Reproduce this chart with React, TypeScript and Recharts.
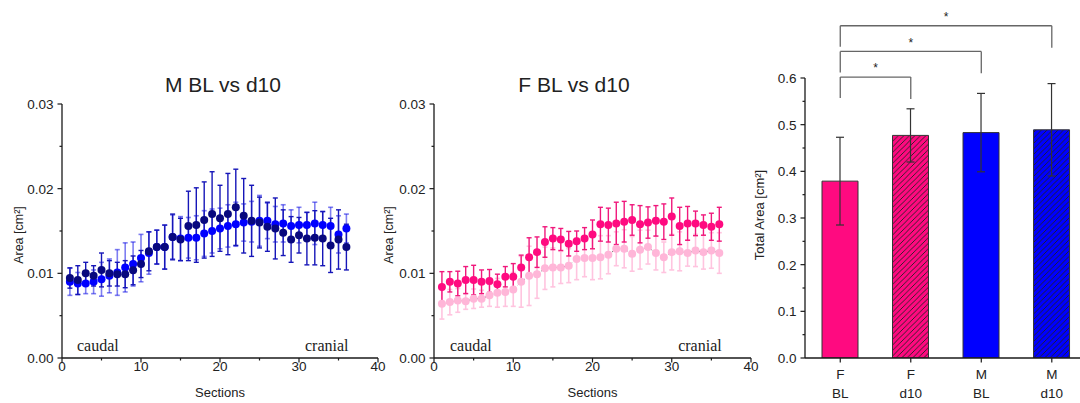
import React from "react";
import {
  ScatterChart,
  Scatter,
  BarChart,
  Bar,
  Cell,
  XAxis,
  YAxis,
  ErrorBar,
  ReferenceLine,
  ReferenceDot,
} from "recharts";

// sections along the spine (caudal -> cranial)
const sections = [
  1, 2, 3, 4, 5, 6, 7, 8, 9, 10, 11, 12, 13, 14, 15, 16, 17, 18,
  19, 20, 21, 22, 23, 24, 25, 26, 27, 28, 29, 30, 31, 32, 33, 34, 35, 36,
];

// males, area per section [cm²]
const mBL = [
  0.009, 0.0088, 0.0088, 0.009, 0.0093, 0.0097, 0.0101, 0.0107, 0.0111, 0.0118, 0.0124, 0.0131,
  0.0131, 0.0143, 0.0141, 0.0142, 0.0142, 0.0147, 0.015, 0.0153, 0.0156, 0.0158, 0.016, 0.0161,
  0.0162, 0.0162, 0.0158, 0.0159, 0.0156, 0.0157, 0.0157, 0.0159, 0.0157, 0.0156, 0.0146, 0.0153,
];
const mBLErr = [
  0.0016, 0.0013, 0.0012, 0.0014, 0.002, 0.002, 0.0027, 0.0029, 0.0026, 0.0028, 0.0025, 0.002,
  0.0026, 0.0026, 0.0026, 0.0024, 0.0026, 0.0027, 0.0026, 0.0024, 0.0025, 0.0026, 0.0022, 0.0024,
  0.003, 0.0021, 0.0021, 0.0022, 0.0019, 0.0021, 0.0015, 0.0025, 0.0016, 0.0022, 0.0022, 0.0017,
];
const mD10 = [
  0.00945, 0.0092, 0.01, 0.0097, 0.0104, 0.01, 0.0099, 0.0099, 0.01035, 0.0111, 0.0126, 0.0131,
  0.0131, 0.0143, 0.014, 0.0156, 0.0157, 0.0163, 0.017, 0.0165, 0.017, 0.0178, 0.0168, 0.0162,
  0.016, 0.0155, 0.0153, 0.0148, 0.014, 0.0145, 0.0141, 0.0142, 0.0141, 0.0133, 0.014, 0.0131,
];
const mD10Err = [
  0.0012, 0.0017, 0.0013, 0.0012, 0.002, 0.0015, 0.0014, 0.0016, 0.0017, 0.0016, 0.0023, 0.002,
  0.0026, 0.0027, 0.0025, 0.0041, 0.0044, 0.0045, 0.005, 0.0039, 0.0048, 0.0045, 0.0044, 0.0042,
  0.003, 0.0029, 0.0036, 0.0027, 0.0027, 0.0021, 0.0031, 0.0032, 0.0032, 0.0032, 0.0035, 0.0027,
];

// females, area per section [cm²]
const fBL = [
  0.0064, 0.0066, 0.0068, 0.0067, 0.007, 0.007, 0.0074, 0.0077, 0.0078, 0.0081, 0.009, 0.0097,
  0.0099, 0.0106, 0.0107, 0.0107, 0.0109, 0.0117, 0.0118, 0.0118, 0.0119, 0.0122, 0.0129, 0.0129,
  0.0123, 0.0128, 0.0131, 0.0124, 0.0119, 0.0125, 0.0126, 0.0124, 0.0127, 0.0125, 0.0127, 0.0124,
];
const fBLErr = [
  0.0018, 0.0015, 0.0014, 0.00095, 0.00115, 0.001, 0.0013, 0.0017, 0.0017, 0.002, 0.003, 0.0035,
  0.00285, 0.0025, 0.0023, 0.0019, 0.002, 0.00245, 0.0022, 0.00255, 0.00255, 0.00225, 0.002, 0.00225,
  0.00205, 0.0023, 0.002, 0.002, 0.0018, 0.0021, 0.0023, 0.00155, 0.0019, 0.002, 0.0021, 0.0024,
];
const fD10 = [
  0.0084, 0.009, 0.0088, 0.0092, 0.0092, 0.009, 0.0091, 0.0087, 0.0096, 0.0096, 0.0107, 0.0119,
  0.0125, 0.0137, 0.0141, 0.014, 0.0135, 0.0138, 0.0141, 0.0146, 0.0158, 0.0157, 0.0159, 0.0161,
  0.0163, 0.0158, 0.016, 0.0162, 0.0161, 0.0167, 0.0156, 0.0159, 0.0159, 0.0157, 0.0155, 0.0158,
];
const fD10Err = [
  0.0018, 0.0012, 0.00145, 0.0016, 0.00175, 0.0014, 0.00135, 0.0012, 0.0012, 0.00155, 0.00145, 0.0023,
  0.0018, 0.0018, 0.0013, 0.0013, 0.00145, 0.0012, 0.0013, 0.0017, 0.002, 0.002, 0.0025, 0.0024,
  0.0018, 0.0022, 0.00185, 0.0018, 0.0021, 0.0022, 0.0022, 0.002, 0.00145, 0.0012, 0.0016, 0.002,
];

// total area per group
const groupSex = ["F", "F", "M", "M"];
const groupDay = ["BL", "d10", "BL", "d10"];
const totalArea = [0.379, 0.477, 0.483, 0.489];
const totalAreaErr = [0.094, 0.057, 0.084, 0.099];

// significant comparisons (group index, 1-based)
const comparisons = [
  { from: 1, to: 2, label: "*" },
  { from: 1, to: 3, label: "*" },
  { from: 1, to: 4, label: "*" },
];

const AXIS = "#1a1a1a";
const FONT = "'Liberation Sans', Arial, sans-serif";
const TS = 4;
const TM = 4;
const TICK_FONT = 13.5;

const toPoints = (vals: number[], errs: number[]) =>
  sections.map((s, i) => ({ x: s, y: vals[i], e: errs[i] }));

const isMajor = (v: number, step: number) => Math.abs(v / step - Math.round(v / step)) < 1e-6;

const yTick = (step: number, digits: number) => (p: any) => {
  const v = p.payload.value;
  const major = isMajor(v, step);
  const ax = p.x + TS + TM;
  return (
    <g>
      <line x1={ax} x2={ax - (major ? 4.5 : 2.5)} y1={p.y} y2={p.y} stroke={AXIS} strokeWidth={1.2} />
      {major && (
        <text x={ax - 8.5} y={p.y} dy="0.36em" textAnchor="end" fontSize={TICK_FONT} fontFamily={FONT} fill="#222">
          {v.toFixed(digits)}
        </text>
      )}
    </g>
  );
};

const xTick = (step: number) => (p: any) => {
  const v = p.payload.value;
  const major = isMajor(v, step);
  const ay = p.y - TS - TM;
  return (
    <g>
      <line x1={p.x} x2={p.x} y1={ay} y2={ay + (major ? 4.5 : 2.5)} stroke={AXIS} strokeWidth={1.2} />
      {major && (
        <text x={p.x} y={ay + 12.5} textAnchor="middle" fontSize={TICK_FONT} fontFamily={FONT} fill="#222">
          {v}
        </text>
      )}
    </g>
  );
};

const groupTick = (p: any) => {
  const i = Math.round(p.payload.value) - 1;
  const ay = p.y - TS - TM;
  return (
    <g>
      <line x1={p.x} x2={p.x} y1={ay} y2={ay + 4.5} stroke={AXIS} strokeWidth={1.2} />
      <text x={p.x} y={ay + 20.5} textAnchor="middle" fontSize={TICK_FONT} fontFamily={FONT} fill="#222">
        {groupSex[i]}
      </text>
      <text x={p.x} y={ay + 40} textAnchor="middle" fontSize={TICK_FONT} fontFamily={FONT} fill="#222">
        {groupDay[i]}
      </text>
    </g>
  );
};

const dot = (fill: string) => (p: any) => <circle cx={p.cx} cy={p.cy} r={4} fill={fill} />;

const areaTicks = [0, 0.005, 0.01, 0.015, 0.02, 0.025, 0.03];
const sectionTicks = [0, 5, 10, 15, 20, 25, 30, 35, 40];
const totalTicks = [0, 0.05, 0.1, 0.15, 0.2, 0.25, 0.3, 0.35, 0.4, 0.45, 0.5, 0.55, 0.6];

type PanelProps = {
  left: number;
  right: number;
  bl: { x: number; y: number; e: number }[];
  d10: { x: number; y: number; e: number }[];
  blColor: string;
  blErr: string;
  d10Color: string;
  d10Err: string;
  connectBL?: boolean;
};

function SectionPanel({ left, right, bl, d10, blColor, blErr, d10Color, d10Err, connectBL }: PanelProps) {
  return (
    <div style={{ position: "absolute", left: 0, top: 0 }}>
      <ScatterChart width={1080} height={403} margin={{ top: 104, right, bottom: 0, left: left - 50 }}>
        <XAxis
          dataKey="x"
          type="number"
          domain={[0, 40]}
          ticks={sectionTicks}
          interval={0}
          height={45}
          tickSize={TS}
          tickMargin={TM}
          tickLine={false}
          tick={xTick(10)}
          axisLine={{ stroke: AXIS, strokeWidth: 1.3 }}
        />
        <YAxis
          dataKey="y"
          type="number"
          domain={[0, 0.03]}
          ticks={areaTicks}
          interval={0}
          width={50}
          tickSize={TS}
          tickMargin={TM}
          tickLine={false}
          tick={yTick(0.01, 2)}
          axisLine={{ stroke: AXIS, strokeWidth: 1.3 }}
        />
        <Scatter
          data={bl}
          shape={dot(blColor)}
          isAnimationActive={false}
          line={connectBL ? { stroke: "#555", strokeWidth: 1, strokeDasharray: "1 3" } : false}
        >
          <ErrorBar dataKey="e" direction="y" width={2.5} stroke={blErr} strokeWidth={1.6} isAnimationActive={false} />
        </Scatter>
        <Scatter data={d10} shape={dot(d10Color)} isAnimationActive={false}>
          <ErrorBar dataKey="e" direction="y" width={2.5} stroke={d10Err} strokeWidth={1.4} isAnimationActive={false} />
        </Scatter>
      </ScatterChart>
    </div>
  );
}

const barData = totalArea.map((v, i) => ({ x: i + 1, v, e: totalAreaErr[i] }));
const barFills = ["#ff0a80", "url(#hatchPink)", "#0000ff", "url(#hatchBlue)"];

function TotalPanel() {
  return (
    <div style={{ position: "absolute", left: 0, top: 0 }}>
      <BarChart width={1080} height={403} data={barData} margin={{ top: 78, right: 0, bottom: 0, left: 755 }}>
        <XAxis
          dataKey="x"
          type="number"
          domain={[0.5, 4.4]}
          allowDataOverflow
          ticks={[1, 2, 3, 4]}
          interval={0}
          height={45}
          tickSize={TS}
          tickMargin={TM}
          tickLine={false}
          tick={groupTick}
          axisLine={{ stroke: AXIS, strokeWidth: 1.3 }}
        />
        <YAxis
          type="number"
          domain={[0, 0.6]}
          allowDataOverflow
          ticks={totalTicks}
          interval={0}
          width={50}
          tickSize={TS}
          tickMargin={TM}
          tickLine={false}
          tick={yTick(0.1, 1)}
          axisLine={{ stroke: AXIS, strokeWidth: 1.3 }}
        />
        <Bar dataKey="v" barSize={36} stroke="#333" strokeWidth={1} isAnimationActive={false}>
          {barData.map((d, i) => (
            <Cell key={d.x} fill={barFills[i]} />
          ))}
          <ErrorBar dataKey="e" direction="y" width={4} stroke="#333" strokeWidth={1.2} isAnimationActive={false} />
        </Bar>
        {comparisons.map((c, k) => {
          const top = 0.602 + k * 0.055;
          const pts = [
            { x: c.from, y: top - 0.045 },
            { x: c.from, y: top },
            { x: c.to, y: top },
            { x: c.to, y: top - 0.047 },
          ];
          return [0, 1, 2].map((j) => (
            <ReferenceLine
              key={`b${k}-${j}`}
              segment={[pts[j], pts[j + 1]]}
              stroke="#666"
              strokeWidth={1.3}
              ifOverflow="visible"
            />
          ));
        })}
        {comparisons.map((c, k) => (
          <ReferenceDot
            key={`s${k}`}
            x={(c.from + c.to) / 2}
            y={0.602 + k * 0.055 + 0.025}
            r={0}
            ifOverflow="visible"
            shape={(p: any) => (
              <text x={p.cx} y={p.cy + 7} textAnchor="middle" fontSize={12} fontFamily={FONT} fill="#222">
                {c.label}
              </text>
            )}
          />
        ))}
      </BarChart>
    </div>
  );
}

export default function App() {
  const txt = { fontFamily: FONT, fill: "#222" };
  const serif = { fontFamily: "'Liberation Serif', 'Times New Roman', serif", fill: "#222", fontSize: 16 };
  return (
    <div style={{ position: "absolute", left: 0, top: 0, width: 1080, height: 403, background: "#fff", overflow: "hidden" }}>
      <svg width={0} height={0} style={{ position: "absolute" }}>
        <defs>
          <pattern id="hatchPink" patternUnits="userSpaceOnUse" width="5.5" height="5.5">
            <rect width="5.5" height="5.5" fill="#ff0a80" />
            <path d="M-1,1 L1,-1 M0,5.5 L5.5,0 M4.5,6.5 L6.5,4.5" stroke="#222" strokeWidth="0.9" />
          </pattern>
          <pattern id="hatchBlue" patternUnits="userSpaceOnUse" width="5.5" height="5.5">
            <rect width="5.5" height="5.5" fill="#0000ff" />
            <path d="M-1,1 L1,-1 M0,5.5 L5.5,0 M4.5,6.5 L6.5,4.5" stroke="#222" strokeWidth="0.9" />
          </pattern>
        </defs>
      </svg>

      <SectionPanel
        left={62}
        right={702}
        bl={toPoints(mBL, mBLErr)}
        d10={toPoints(mD10, mD10Err)}
        blColor="#0000ff"
        blErr="rgba(20,20,230,0.55)"
        d10Color="#08087e"
        d10Err="#1616b8"
      />
      <SectionPanel
        left={434}
        right={329}
        bl={toPoints(fBL, fBLErr)}
        d10={toPoints(fD10, fD10Err)}
        blColor="#ffb6d8"
        blErr="#ffc4df"
        d10Color="#ff0a80"
        d10Err="#f0187c"
        connectBL
      />
      <TotalPanel />

      <svg width={1080} height={403} style={{ position: "absolute", left: 0, top: 0, pointerEvents: "none" }}>
        <text x={223} y={92} textAnchor="middle" fontSize={21} {...txt}>M BL vs d10</text>
        <text x={574} y={92} textAnchor="middle" fontSize={21} {...txt}>F BL vs d10</text>

        <text x={18.5} y={235} transform="rotate(-90 18.5 235)" textAnchor="middle" dominantBaseline="central" fontSize={12.5} {...txt}>
          Area [cm²]
        </text>
        <text x={388.5} y={235} transform="rotate(-90 388.5 235)" textAnchor="middle" dominantBaseline="central" fontSize={12.5} {...txt}>
          Area [cm²]
        </text>
        <text x={759} y={215} transform="rotate(-90 759 215)" textAnchor="middle" dominantBaseline="central" fontSize={13} {...txt}>
          Total Area [cm²]
        </text>

        <text x={220} y={397} textAnchor="middle" fontSize={13} {...txt}>Sections</text>
        <text x={592.5} y={397} textAnchor="middle" fontSize={13} {...txt}>Sections</text>

        <text x={77} y={351} {...serif}>caudal</text>
        <text x={348.5} y={351} textAnchor="end" {...serif}>cranial</text>
        <text x={450} y={351} {...serif}>caudal</text>
        <text x={721.7} y={351} textAnchor="end" {...serif}>cranial</text>
      </svg>
    </div>
  );
}
